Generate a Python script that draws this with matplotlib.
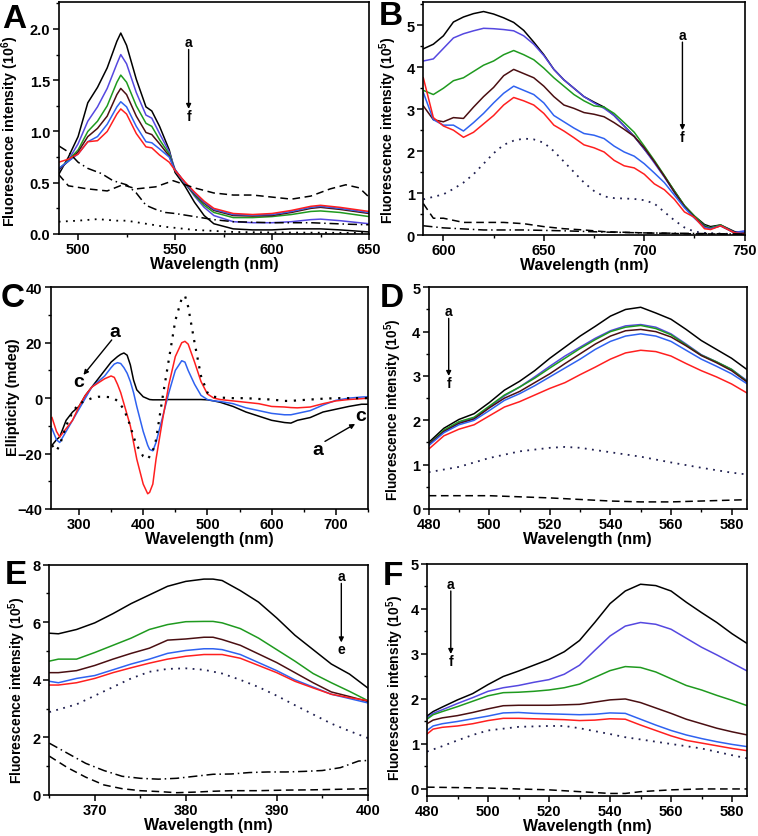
import matplotlib
matplotlib.use("Agg")
import matplotlib.pyplot as plt
from matplotlib.ticker import MultipleLocator, FormatStrFormatter

# ---------------- data ----------------
line_colors = ["#000000", "#5548e0", "#1f9a1f", "#4a0f12", "#2f62f0", "#ff1f1f"]

# Panel A
A_wl = [490, 495, 500, 505, 510, 515, 520, 522, 525, 530, 535, 538, 542, 547, 550, 555, 560, 565, 570, 580, 590, 600, 610, 620, 625, 635, 650]
A_a = [0.58, 0.75, 0.95, 1.28, 1.43, 1.62, 1.88, 1.96, 1.84, 1.51, 1.24, 1.2, 1.05, 0.82, 0.6, 0.47, 0.31, 0.18, 0.1, 0.05, 0.04, 0.04, 0.05, 0.05, 0.05, 0.04, 0.02]
A_b = [0.62, 0.72, 0.88, 1.1, 1.24, 1.42, 1.66, 1.75, 1.66, 1.38, 1.16, 1.13, 0.98, 0.8, 0.63, 0.5, 0.37, 0.26, 0.18, 0.12, 0.11, 0.11, 0.12, 0.14, 0.145, 0.13, 0.1]
A_c = [0.63, 0.72, 0.82, 1.0, 1.1, 1.25, 1.48, 1.55, 1.48, 1.25, 1.08, 1.05, 0.92, 0.78, 0.62, 0.5, 0.38, 0.28, 0.21, 0.16, 0.16, 0.17, 0.19, 0.22, 0.225, 0.21, 0.17]
A_d = [0.63, 0.71, 0.8, 0.95, 1.03, 1.15, 1.36, 1.42, 1.36, 1.15, 0.99, 0.97, 0.88, 0.76, 0.62, 0.5, 0.39, 0.3, 0.23, 0.18, 0.175, 0.18, 0.21, 0.25, 0.26, 0.24, 0.2]
A_e = [0.64, 0.71, 0.78, 0.9, 0.95, 1.07, 1.24, 1.29, 1.24, 1.05, 0.9, 0.89, 0.83, 0.75, 0.62, 0.5, 0.4, 0.31, 0.24, 0.19, 0.185, 0.19, 0.22, 0.26, 0.27, 0.25, 0.21]
A_f = [0.7, 0.73, 0.78, 0.9, 0.91, 1.0, 1.17, 1.22, 1.17, 0.98, 0.85, 0.84, 0.77, 0.7, 0.62, 0.51, 0.41, 0.32, 0.25, 0.2, 0.19, 0.2, 0.23, 0.27, 0.28, 0.26, 0.22]
A_dash_wl = [490, 495, 505, 515, 523, 530, 540, 549, 560, 570, 580, 590, 600, 610, 620, 630, 638, 645, 650]
A_dash = [0.58, 0.47, 0.44, 0.42, 0.48, 0.44, 0.46, 0.52, 0.45, 0.4, 0.38, 0.38, 0.36, 0.34, 0.37, 0.44, 0.48, 0.45, 0.36]
A_dd_wl = [490, 495, 500, 505, 512, 518, 525, 530, 535, 540, 545, 550, 560, 570, 580, 590, 600, 620, 640, 650]
A_dd = [0.86, 0.8, 0.7, 0.64, 0.59, 0.52, 0.48, 0.4, 0.28, 0.24, 0.21, 0.2, 0.17, 0.14, 0.12, 0.115, 0.11, 0.11, 0.095, 0.09]
A_dot_wl = [490, 500, 510, 520, 525, 535, 545, 560, 580, 600, 650]
A_dot = [0.12, 0.13, 0.145, 0.13, 0.13, 0.1, 0.07, 0.04, 0.02, 0.015, 0.01]

# Panel B
B_wl = [590, 595, 600, 605, 610, 615, 620, 625, 630, 635, 640, 645, 650, 655, 660, 665, 670, 675, 680, 685, 690, 695, 700, 705, 710, 715, 720, 725, 730, 733, 738, 745, 750]
B_a = [4.44, 4.55, 4.75, 5.08, 5.2, 5.28, 5.33, 5.27, 5.18, 5.07, 4.88, 4.6, 4.3, 3.95, 3.7, 3.5, 3.3, 3.17, 3.05, 2.85, 2.6, 2.35, 2.05, 1.75, 1.4, 1.05, 0.7, 0.45, 0.25, 0.2, 0.24, 0.08, 0.05]
B_b = [4.15, 4.2, 4.45, 4.7, 4.8, 4.87, 4.93, 4.92, 4.9, 4.87, 4.75, 4.55, 4.28, 3.95, 3.7, 3.5, 3.3, 3.15, 3.02, 2.85, 2.6, 2.35, 2.05, 1.72, 1.38, 1.02, 0.68, 0.42, 0.22, 0.17, 0.22, 0.06, 0.1]
B_c = [3.45, 3.35, 3.5, 3.68, 3.75, 3.9, 4.05, 4.15, 4.3, 4.4, 4.3, 4.18, 3.98, 3.75, 3.55, 3.35, 3.2, 3.08, 3.05, 2.9, 2.68, 2.45, 2.12, 1.78, 1.42, 1.05, 0.7, 0.45, 0.22, 0.17, 0.24, 0.05, 0.05]
B_d = [3.08, 2.75, 2.7, 2.8, 2.78, 3.05, 3.3, 3.52, 3.8, 3.95, 3.85, 3.75, 3.55, 3.3, 3.1, 3.02, 2.92, 2.88, 2.82, 2.68, 2.52, 2.35, 2.08, 1.75, 1.4, 1.02, 0.68, 0.42, 0.2, 0.15, 0.22, 0.05, 0.06]
B_e = [3.4, 2.75, 2.62, 2.62, 2.48, 2.68, 2.9, 3.15, 3.38, 3.55, 3.45, 3.35, 3.15, 2.85, 2.7, 2.55, 2.42, 2.38, 2.3, 2.12, 1.98, 1.88, 1.7, 1.48, 1.25, 0.95, 0.65, 0.4, 0.18, 0.15, 0.22, 0.05, 0.08]
B_f = [3.75, 2.8, 2.6, 2.5, 2.33, 2.45, 2.65, 2.85, 3.1, 3.28, 3.2, 3.1, 2.9, 2.62, 2.48, 2.32, 2.15, 2.08, 1.98, 1.78, 1.65, 1.6, 1.45, 1.22, 1.08, 0.85, 0.55, 0.42, 0.15, 0.13, 0.22, 0.05, 0.03]
B_dot_wl = [590, 600, 605, 610, 615, 620, 625, 630, 635, 640, 645, 650, 655, 660, 665, 670, 675, 680, 685, 690, 695, 700, 705, 710, 715, 720, 725, 730, 740, 750]
B_dot = [0.85, 0.97, 1.1, 1.25, 1.45, 1.7, 1.95, 2.15, 2.25, 2.3, 2.28, 2.2, 2.0, 1.75, 1.5, 1.25, 1.05, 0.92, 0.88, 0.87, 0.86, 0.83, 0.75, 0.55, 0.35, 0.18, 0.08, 0.05, 0.03, 0.02]
B_dash_wl = [590, 595, 600, 610, 620, 630, 640, 650, 660, 670, 680, 700, 720, 750]
B_dash = [0.75, 0.4, 0.4, 0.3, 0.3, 0.3, 0.27, 0.2, 0.15, 0.12, 0.08, 0.05, 0.03, 0.02]
B_dd_wl = [590, 600, 620, 640, 660, 680, 700, 720, 750]
B_dd = [0.22, 0.17, 0.12, 0.12, 0.1, 0.07, 0.05, 0.04, 0.02]

# Panel C (CD spectra)
C_wl = [258, 265, 270, 280, 290, 300, 310, 320, 330, 340, 350, 355, 360, 365, 370, 375, 380, 385, 390, 400, 407, 410, 415, 420, 430, 440, 450, 460, 465, 470, 480, 490, 500, 510, 520, 540, 560, 580, 600, 620, 630, 640, 660, 680, 700, 720, 740, 750]
C_a = [-17, -15, -14, -8, -5, -3, 1, 4, 7, 10, 13, 14, 15, 15.8, 16.3, 15.5, 12, 6.5, 3, 0.5, -0.2, -0.5, -0.6, -0.6, -0.6, -0.5, -0.5, -0.5, -0.5, -0.5, -0.5, -0.5, -0.6, -1, -1.5, -3, -5, -6.5, -8, -8.8, -9, -8, -7, -5, -4, -3, -2.2, -2.2]
C_b = [-11, -15, -16, -12, -8, -4, 0, 4, 6, 8, 11, 12.3, 12.8, 12.5, 11, 9, 6, 2, -3, -12, -17, -18.5, -19, -16, -7, 2, 10, 13.5, 13, 10, 5, 1, -0.5, -1, -1.2, -2, -3.5, -4.5, -5.5, -6, -6, -5.5, -4.5, -2.5, -0.8, 0, 0.4, 0.5]
C_c = [-7, -12, -14, -11, -8, -3, 1, 4, 5.5, 7, 8, 7.5, 5, 2, -2, -6, -10, -16, -22, -31, -34.5, -34, -31, -22, -8, 5, 15, 20, 20.5, 19.5, 13, 6, 1.5, 0, -0.5, -1, -1.5, -2, -3, -3.2, -3.4, -3.5, -3.2, -2, -1, -0.5, -0.2, 0]
C_dot = [-17, -19, -17, -10, -5, -2, -1, 0, 0.5, 0.5, 0.3, -0.2, -1, -2.5, -4, -7, -10, -14, -17, -21, -22, -21, -19, -15, 0, 14, 28, 36, 37, 33, 20, 8, 2, 0.5, 0.2, 0, 0, -0.3, -0.5, -1, -1, -0.8, -0.5, -0.2, 0, 0, 0, 0]

# Panel D
D_wl = [480, 485, 490, 495, 500, 505, 510, 515, 520, 525, 530, 535, 540, 545, 550, 555, 560, 565, 570, 575, 580, 585]
D_a = [1.5, 1.82, 2.02, 2.15, 2.4, 2.68, 2.88, 3.12, 3.4, 3.65, 3.9, 4.12, 4.35, 4.5, 4.55, 4.42, 4.28, 4.05, 3.8, 3.6, 3.4, 3.15]
D_b = [1.45, 1.75, 1.95, 2.05, 2.3, 2.55, 2.75, 2.98, 3.22, 3.45, 3.65, 3.85, 4.02, 4.13, 4.16, 4.1, 3.95, 3.72, 3.48, 3.32, 3.15, 2.9]
D_c = [1.45, 1.78, 1.97, 2.07, 2.32, 2.57, 2.75, 2.95, 3.18, 3.4, 3.62, 3.82, 4.0, 4.1, 4.14, 4.07, 3.93, 3.7, 3.47, 3.32, 3.15, 2.88]
D_d = [1.45, 1.75, 1.93, 2.03, 2.28, 2.5, 2.65, 2.85, 3.05, 3.28, 3.5, 3.72, 3.9, 4.02, 4.05, 4.0, 3.88, 3.68, 3.46, 3.3, 3.12, 2.87]
D_e = [1.43, 1.72, 1.9, 2.0, 2.22, 2.45, 2.6, 2.78, 2.98, 3.18, 3.38, 3.6, 3.78, 3.9, 3.95, 3.9, 3.78, 3.58, 3.38, 3.22, 3.05, 2.83]
D_f = [1.35, 1.65, 1.8, 1.9, 2.1, 2.3, 2.42, 2.57, 2.72, 2.85, 3.03, 3.2, 3.38, 3.52, 3.58, 3.55, 3.45, 3.28, 3.12, 2.98, 2.82, 2.62]
D_dot_wl = [480, 490, 500, 510, 520, 525, 530, 540, 550, 560, 570, 580, 585]
D_dot = [0.83, 0.95, 1.15, 1.3, 1.38, 1.4, 1.38, 1.28, 1.18, 1.05, 0.93, 0.82, 0.78]
D_dash_wl = [480, 500, 520, 540, 550, 560, 570, 585]
D_dash = [0.3, 0.3, 0.25, 0.18, 0.16, 0.16, 0.18, 0.21]

# Panel E
E_wl = [365, 366, 368, 370, 372, 374, 376, 378, 380, 382, 383, 384, 386, 388, 390, 392, 394, 396, 398, 400]
E_a = [5.62, 5.6, 5.75, 5.98, 6.3, 6.65, 6.95, 7.25, 7.42, 7.5, 7.5, 7.45, 7.1, 6.7, 6.15, 5.55, 5.05, 4.55, 4.2, 3.72]
E_b = [4.65, 4.72, 4.72, 4.95, 5.2, 5.45, 5.75, 5.92, 6.02, 6.03, 6.03, 5.98, 5.78, 5.45, 5.05, 4.65, 4.22, 3.9, 3.6, 3.28]
E_c = [4.25, 4.25, 4.32, 4.5, 4.72, 4.92, 5.1, 5.38, 5.42, 5.48, 5.48, 5.4, 5.2, 4.9, 4.6, 4.25, 3.9, 3.58, 3.42, 3.25]
E_d = [3.95, 3.9, 4.05, 4.15, 4.35, 4.55, 4.72, 4.92, 5.02, 5.08, 5.08, 5.05, 4.88, 4.6, 4.32, 4.0, 3.75, 3.5, 3.35, 3.2]
E_e = [3.82, 3.82, 3.9, 4.05, 4.25, 4.42, 4.58, 4.72, 4.82, 4.88, 4.88, 4.88, 4.75, 4.5, 4.25, 3.95, 3.72, 3.5, 3.38, 3.28]
E_dot_wl = [365, 368, 370, 372, 374, 376, 378, 380, 382, 384, 386, 388, 390, 392, 394, 396, 398, 400]
E_dot = [2.88, 3.15, 3.45, 3.75, 4.05, 4.28, 4.38, 4.4, 4.35, 4.22, 4.0, 3.75, 3.45, 3.12, 2.8, 2.48, 2.22, 1.98]
E_dd_wl = [365, 367, 369, 371, 373, 375, 377, 379, 381, 383, 385, 387, 389, 391, 393, 395, 397, 399, 400]
E_dd = [1.8, 1.45, 1.1, 0.85, 0.65, 0.58, 0.55, 0.58, 0.65, 0.72, 0.73, 0.78, 0.8, 0.8, 0.82, 0.85, 0.95, 1.18, 1.2]
E_dash_wl = [365, 367, 369, 371, 373, 375, 377, 379, 381, 383, 385, 388, 391, 394, 397, 400]
E_dash = [1.35, 0.95, 0.62, 0.35, 0.22, 0.15, 0.12, 0.08, 0.1, 0.13, 0.15, 0.15, 0.17, 0.18, 0.2, 0.22]

# Panel F
F_wl = [480, 482, 485, 490, 495, 500, 505, 510, 515, 520, 525, 530, 535, 540, 545, 550, 555, 560, 565, 570, 575, 580, 585]
F_a = [1.62, 1.72, 1.82, 1.98, 2.12, 2.32, 2.5, 2.62, 2.75, 2.88, 3.05, 3.3, 3.7, 4.12, 4.4, 4.55, 4.52, 4.4, 4.15, 3.92, 3.7, 3.45, 3.23]
F_b = [1.58, 1.68, 1.76, 1.9, 2.03, 2.17, 2.25, 2.3, 2.37, 2.43, 2.55, 2.75, 3.08, 3.4, 3.62, 3.7, 3.66, 3.55, 3.35, 3.15, 2.98, 2.8, 2.62]
F_c = [1.55, 1.65, 1.72, 1.83, 1.95, 2.07, 2.14, 2.15, 2.17, 2.2, 2.25, 2.33, 2.48, 2.63, 2.72, 2.7, 2.6, 2.45, 2.3, 2.2, 2.08, 1.97, 1.85]
F_d = [1.45, 1.53, 1.58, 1.63, 1.7, 1.78, 1.85, 1.86, 1.86, 1.86, 1.87, 1.88, 1.93, 1.98, 2.0, 1.92, 1.8, 1.68, 1.55, 1.45, 1.35, 1.27, 1.2]
F_e = [1.3, 1.4, 1.45, 1.5, 1.56, 1.62, 1.69, 1.7, 1.68, 1.67, 1.66, 1.65, 1.66, 1.69, 1.68, 1.55, 1.42, 1.3, 1.2, 1.12, 1.05, 0.99, 0.94]
F_f = [1.22, 1.33, 1.37, 1.4, 1.45, 1.52, 1.57, 1.57, 1.56, 1.55, 1.54, 1.52, 1.53, 1.56, 1.55, 1.42, 1.3, 1.18, 1.08, 1.02, 0.96, 0.9, 0.85]
F_dot_wl = [480, 485, 490, 495, 500, 510, 520, 525, 530, 540, 545, 550, 560, 570, 580, 585]
F_dot = [0.83, 0.95, 1.08, 1.2, 1.3, 1.38, 1.4, 1.4, 1.35, 1.22, 1.15, 1.1, 1.0, 0.9, 0.75, 0.68]
F_dash_wl = [480, 500, 520, 530, 540, 545, 550, 560, 570, 585]
F_dash = [0.04, 0.02, -0.02, -0.06, -0.1, -0.1, -0.06, -0.02, 0.0, 0.0]

# ---------------- style ----------------
plt.rcParams['font.family'] = ['Liberation Sans', 'DejaVu Sans']
plt.rcParams['font.weight'] = 'bold'
plt.rcParams['axes.labelweight'] = 'bold'
plt.rcParams['axes.linewidth'] = 1.2
plt.rcParams['mathtext.fontset'] = 'custom'
plt.rcParams['mathtext.rm'] = 'Liberation Sans:bold'
plt.rcParams['mathtext.default'] = 'rm'

DOT = (0, (1, 3))
DASH = (0, (5, 3))
DASHDOT = (0, (6, 2.5, 1, 2.5))
LW = 1.1

W, H = 758, 837
fig = plt.figure(figsize=(W / 100, H / 100), dpi=100)


def px_axes(left, top, right, bottom):
	return fig.add_axes([left / W, 1 - bottom / H, (right - left) / W, (bottom - top) / H])


def style_axes(ax, xlim, ylim, xmaj, xmin, ymaj, ymin, ylabel, ylab_xy, ylab_size=10.3, yfmt=None):
	ax.set_xlim(*xlim)
	ax.set_ylim(*ylim)
	ax.xaxis.set_major_locator(MultipleLocator(xmaj))
	ax.xaxis.set_minor_locator(MultipleLocator(xmin))
	ax.yaxis.set_major_locator(MultipleLocator(ymaj))
	ax.yaxis.set_minor_locator(MultipleLocator(ymin))
	if yfmt:
		ax.yaxis.set_major_formatter(FormatStrFormatter(yfmt))
	ax.tick_params(which='major', direction='out', length=4, width=1.1, labelsize=10.5, pad=2)
	ax.tick_params(which='minor', direction='out', length=2.5, width=1.0)
	ax.set_xlabel('Wavelength (nm)', fontsize=11.5, labelpad=0)
	ax.set_ylabel(ylabel, fontsize=ylab_size)
	ax.yaxis.set_label_coords(*ylab_xy)


def down_arrow(ax, x, y_top, y_bot, top_lab, bot_lab, size=10):
	ax.text(x, y_top, top_lab, ha='center', va='bottom', fontsize=size, fontweight='bold')
	ax.annotate('', xy=(x, y_bot), xytext=(x, y_top),
				arrowprops=dict(arrowstyle='-|>', color='k', lw=1.0, mutation_scale=7, shrinkA=0, shrinkB=0))
	ax.text(x, y_bot, bot_lab, ha='center', va='top', fontsize=size, fontweight='bold')


# ---------------- A ----------------
ax = px_axes(58.7, 3.3, 369, 235)
for y, c in zip([A_a, A_b, A_c, A_d, A_e, A_f], line_colors):
	ax.plot(A_wl, y, color=c, lw=LW)
ax.plot(A_dash_wl, A_dash, color='k', lw=LW, ls=DASH)
ax.plot(A_dd_wl, A_dd, color='k', lw=LW, ls=DASHDOT)
ax.plot(A_dot_wl, A_dot, color='k', lw=1.3, ls=DOT)
style_axes(ax, (490, 650), (0, 2.26), 50, 25, 0.5, 0.25, 'Fluorescence intensity (10$^{6}$)', (-0.122, 0.445), 10.3, '%.1f')
down_arrow(ax, 557, 1.80, 1.22, 'a', 'f')

# ---------------- B ----------------
ax = px_axes(423.3, 3.3, 744.7, 236)
for y, c in zip([B_a, B_b, B_c, B_d, B_e, B_f], line_colors):
	ax.plot(B_wl, y, color=c, lw=LW)
ax.plot(B_dot_wl, B_dot, color='#202050', lw=1.3, ls=DOT)
ax.plot(B_dash_wl, B_dash, color='k', lw=LW, ls=DASH)
ax.plot(B_dd_wl, B_dd, color='k', lw=LW, ls=DASHDOT)
style_axes(ax, (590, 750), (0, 5.55), 50, 25, 1, 0.5, 'Fluorescence intensity (10$^{5}$)', (-0.076, 0.455), 10.1)
down_arrow(ax, 719, 4.6, 2.5, 'a', 'f')

# ---------------- C ----------------
ax = px_axes(50.7, 288.3, 368, 510)
ax.plot(C_wl, C_a, color='k', lw=LW)
ax.plot(C_wl, C_b, color=line_colors[4], lw=LW)
ax.plot(C_wl, C_c, color=line_colors[5], lw=LW)
ax.plot(C_wl, C_dot, color='k', lw=1.6, ls=DOT)
style_axes(ax, (256, 750), (-40, 40), 100, 50, 20, 10, 'Ellipticity (mdeg)', (-0.098, 0.51), 10.5)
ax.text(356, 21, 'a', ha='center', va='bottom', fontsize=14, fontweight='bold')
ax.annotate('', xy=(307, 8.4), xytext=(351, 21),
			arrowprops=dict(arrowstyle='-|>', color='k', lw=1.0, mutation_scale=7, shrinkA=0, shrinkB=0))
ax.text(300, 9, 'c', ha='center', va='top', fontsize=14, fontweight='bold')
ax.text(672, -15.5, 'a', ha='center', va='top', fontsize=14, fontweight='bold')
ax.annotate('', xy=(730, -9.3), xytext=(683, -15.6),
			arrowprops=dict(arrowstyle='-|>', color='k', lw=1.0, mutation_scale=7, shrinkA=0, shrinkB=0))
ax.text(738, -9.5, 'c', ha='center', va='bottom', fontsize=14, fontweight='bold')

# ---------------- D ----------------
ax = px_axes(428.7, 288.3, 746.7, 510)
for y, c in zip([D_a, D_b, D_c, D_d, D_e, D_f], line_colors):
	ax.plot(D_wl, y, color=c, lw=LW)
ax.plot(D_dot_wl, D_dot, color='#202050', lw=1.3, ls=DOT)
ax.plot(D_dash_wl, D_dash, color='k', lw=LW, ls=DASH)
style_axes(ax, (480, 585), (0, 5), 20, 10, 1, 0.5, 'Fluorescence intensity (10$^{5}$)', (-0.078, 0.455), 9.8)
down_arrow(ax, 486.6, 4.3, 3.0, 'a', 'f')

# ---------------- E ----------------
ax = px_axes(49.3, 565.7, 367.7, 796)
for y, c in zip([E_a, E_b, E_c, E_d, E_e], [line_colors[0], line_colors[2], line_colors[3], line_colors[4], line_colors[5]]):
	ax.plot(E_wl, y, color=c, lw=LW)
ax.plot(E_dot_wl, E_dot, color='#202050', lw=1.3, ls=DOT)
ax.plot(E_dd_wl, E_dd, color='k', lw=LW, ls=DASHDOT)
ax.plot(E_dash_wl, E_dash, color='k', lw=LW, ls=DASH)
style_axes(ax, (365, 400), (0, 8), 10, 5, 2, 1, 'Fluorescence intensity (10$^{5}$)', (-0.067, 0.462), 10.1)
down_arrow(ax, 397.1, 7.35, 5.3, 'a', 'e')

# ---------------- F ----------------
ax = px_axes(427, 565, 747.3, 796.7)
for y, c in zip([F_a, F_b, F_c, F_d, F_e, F_f], line_colors):
	ax.plot(F_wl, y, color=c, lw=LW)
ax.plot(F_dot_wl, F_dot, color='#202050', lw=1.3, ls=DOT)
ax.plot(F_dash_wl, F_dash, color='k', lw=LW, ls=DASH)
style_axes(ax, (480, 585), (-0.15, 5), 20, 10, 1, 0.5, 'Fluorescence intensity (10$^{5}$)', (-0.066, 0.47), 10.0)
down_arrow(ax, 487.8, 4.4, 3.0, 'a', 'f')

# ---------------- panel letters ----------------
for lab, x, yb in [('A', 2, 28), ('B', 379, 25), ('C', 1, 307), ('D', 380, 307), ('E', 5, 584), ('F', 383, 585)]:
	fig.text(x / W, 1 - yb / H, lab, fontsize=24, fontweight='heavy', ha='left', va='baseline')

plt.savefig('out.png', dpi=100)
plt.close()
